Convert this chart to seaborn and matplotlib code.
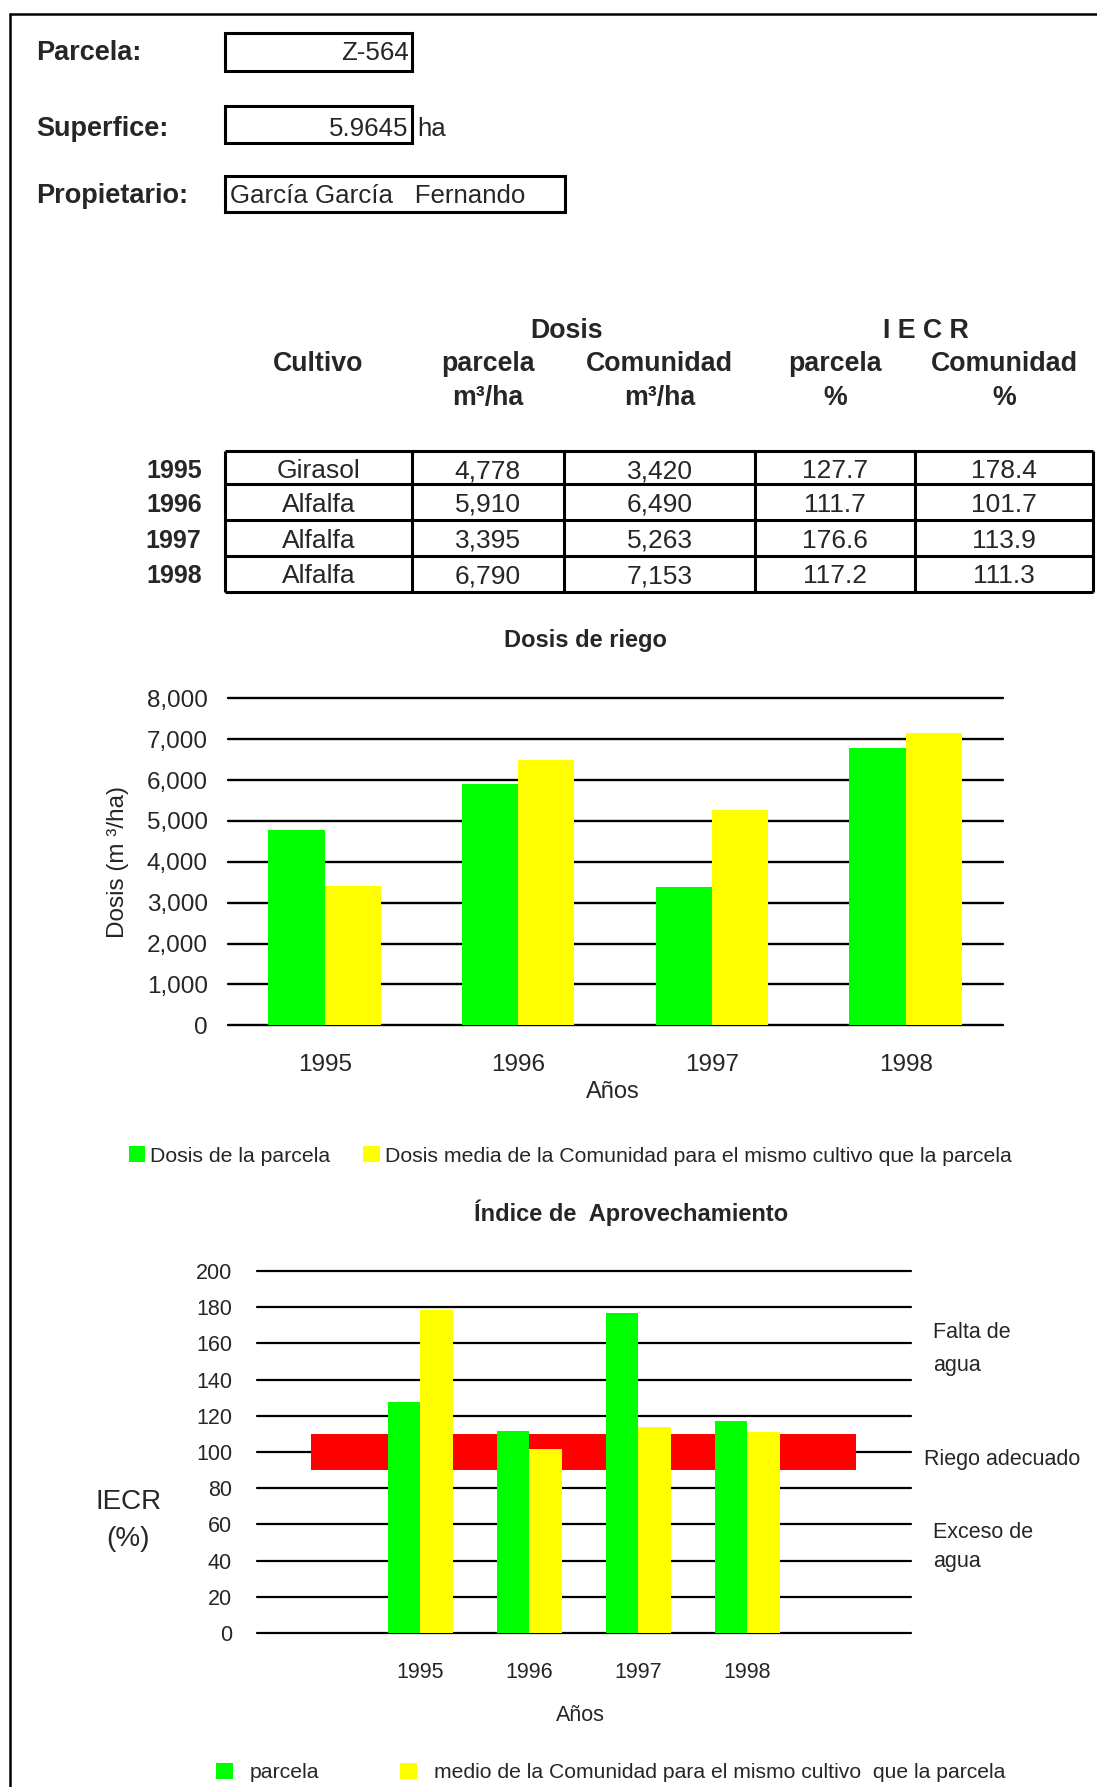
import matplotlib
matplotlib.use("Agg")
import matplotlib.pyplot as plt
from matplotlib.patches import Rectangle
import pandas as pd
import seaborn as sns

# ---- data -------------------------------------------------------------
years = ["1995", "1996", "1997", "1998"]
cultivos = ["Girasol", "Alfalfa", "Alfalfa", "Alfalfa"]
dosis_parcela = [4778, 5910, 3395, 6790]
dosis_comunidad = [3420, 6490, 5263, 7153]
iecr_parcela = [127.7, 111.7, 176.6, 117.2]
iecr_comunidad = [178.4, 101.7, 113.9, 111.3]
riego_adecuado = (90, 110)

parcela_id = "Z-564"
superficie = "5.9645"
propietario = "García García   Fernando"

dosis_ticks = list(range(0, 8001, 1000))
iecr_ticks = list(range(0, 201, 20))

GREEN = "#00FF00"
YELLOW = "#FFFF00"
RED = "#FF0000"

sns.set_style("white")
plt.rcParams["font.family"] = ["Liberation Sans", "DejaVu Sans"]

W, H = 1097, 1787
fig = plt.figure(figsize=(W / 100, H / 100), dpi=100)

# full-page axes in pixel units for the sheet layout
bg = fig.add_axes([0, 0, 1, 1])
bg.set_xlim(0, W)
bg.set_ylim(H, 0)
bg.axis("off")


def ax_rect(left, top, right, bottom):
    return [left / W, 1 - bottom / H, (right - left) / W, (bottom - top) / H]


# page frame (top and left edges)
bg.plot([9.5, W], [13.5, 13.5], color="black", lw=1.8, clip_on=False)
bg.plot([9.5, 9.5], [13.5, H], color="black", lw=1.8, clip_on=False)

# ---- header block -----------------------------------------------------
LBL = dict(fontsize=19.5, fontweight="bold", va="baseline")
bg.text(36.5, 60.5, "Parcela:", **LBL)
bg.text(36.5, 136.5, "Superfice:", **LBL)
bg.text(36.5, 203, "Propietario:", **LBL)

for (x0, y0, x1, y1) in [(224.6, 33.3, 412.2, 71.0),
                         (224.6, 106.0, 412.2, 142.7),
                         (224.6, 176.0, 564.5, 211.7)]:
    bg.add_patch(Rectangle((x0, y0), x1 - x0, y1 - y0, fill=False,
                           ec="black", lw=2.2))

VAL = dict(fontsize=18.6, va="baseline")
bg.text(408.5, 60.5, parcela_id, ha="right", **VAL)
bg.text(408.5, 136.5, superficie, ha="right", **VAL)
bg.text(417, 136.5, "ha", ha="left", **VAL)
bg.text(230.5, 203, propietario, ha="left", **VAL)

# ---- summary table ----------------------------------------------------
col_x = [225.3, 411.6, 564.2, 754.9, 915.2, 1093.2]
row_y = [451.0, 484.3, 520.0, 555.7, 591.7]
col_c = [(col_x[i] + col_x[i + 1]) / 2 for i in range(5)]

HDR = dict(fontsize=19.3, fontweight="bold", va="baseline", ha="center")
bg.text(566.4, 338.5, "Dosis", **HDR)
bg.text(925.7, 338.5, "I E C R", **HDR)
bg.text(col_c[0], 371, "Cultivo", **HDR)
bg.text(col_c[1], 371, "parcela", **HDR)
bg.text(col_c[2], 371, "Comunidad", **HDR)
bg.text(col_c[3], 371, "parcela", **HDR)
bg.text(col_c[4], 371, "Comunidad", **HDR)
bg.text(col_c[1], 405, "m³/ha", **HDR)
bg.text(col_c[2], 405, "m³/ha", **HDR)
bg.text(col_c[3], 405, "%", **HDR)
bg.text(col_c[4], 405, "%", **HDR)

bg.hlines(row_y, col_x[0], col_x[-1], color="black", lw=2.2)
bg.vlines(col_x, row_y[0], row_y[-1], color="black", lw=2.2)

for i, yr in enumerate(years):
    base = row_y[i] + 27.5
    bg.text(201.5, base, yr, fontsize=18, fontweight="bold",
            ha="right", va="baseline")
    cells = [cultivos[i], f"{dosis_parcela[i]:,}", f"{dosis_comunidad[i]:,}",
             f"{iecr_parcela[i]:.1f}", f"{iecr_comunidad[i]:.1f}"]
    for c, txt in zip(col_c, cells):
        bg.text(c, base, txt, fontsize=19, ha="center", va="baseline")

# ---- chart 1: irrigation dose -----------------------------------------
df_dosis = pd.DataFrame({
    "Año": years * 2,
    "serie": ["Dosis de la parcela"] * 4
             + ["Dosis media de la Comunidad para el mismo cultivo que la parcela"] * 4,
    "dosis": dosis_parcela + dosis_comunidad,
})

ax1 = fig.add_axes(ax_rect(227.8, 698.3, 1002.5, 1025.3))
ax1.set_facecolor("none")
sns.barplot(data=df_dosis, x="Año", y="dosis", hue="serie",
            palette=[GREEN, YELLOW], saturation=1, width=0.58,
            linewidth=0, errorbar=None, legend=False, ax=ax1, zorder=2)
ax1.set_xlim(-0.5, len(years) - 0.5)
ax1.set_ylim(dosis_ticks[0], dosis_ticks[-1])
for t in dosis_ticks:
    ax1.axhline(t, color="black", lw=1.7, zorder=1, clip_on=False)
ax1.set_yticks(dosis_ticks)
ax1.set_yticklabels([f"{t:,}" for t in dosis_ticks])
ax1.tick_params(axis="y", length=0, labelsize=17.5, pad=14.4)
ax1.tick_params(axis="x", length=0, labelsize=17.5, pad=21)
ax1.set_xlabel("")
ax1.set_ylabel("")
sns.despine(ax=ax1, left=True, bottom=True)

bg.text(585, 647.5, "Dosis de riego", fontsize=17, fontweight="bold",
        ha="center", va="baseline")
bg.text(612.5, 1098, "Años", fontsize=17, ha="center", va="baseline")
bg.text(118, 861.5, "Dosis (m ³/ha)", fontsize=17.5, rotation=90,
        ha="center", va="center")

# legend
bg.add_patch(Rectangle((128.6, 1146), 16.3, 16.3, color=GREEN, lw=0))
bg.text(150.5, 1161.5, "Dosis de la parcela", fontsize=15.3, va="baseline")
bg.add_patch(Rectangle((363.4, 1146), 16.3, 16.3, color=YELLOW, lw=0))
bg.text(384.8, 1161.5,
        "Dosis media de la Comunidad para el mismo cultivo que la parcela",
        fontsize=15.3, va="baseline")

# ---- chart 2: use index -----------------------------------------------
df_iecr = pd.DataFrame({
    "Año": years * 2,
    "serie": ["parcela"] * 4
             + ["medio de la Comunidad para el mismo cultivo que la parcela"] * 4,
    "iecr": iecr_parcela + iecr_comunidad,
})

ax2 = fig.add_axes(ax_rect(257.0, 1271.0, 910.8, 1633.0))
ax2.set_facecolor("none")
sns.barplot(data=df_iecr, x="Año", y="iecr", hue="serie",
            palette=[GREEN, YELLOW], saturation=1, width=0.6,
            linewidth=0, errorbar=None, legend=False, ax=ax2, zorder=3)
ax2.set_xlim(-1.5, len(years) + 0.5)
ax2.set_ylim(iecr_ticks[0], iecr_ticks[-1])
for t in iecr_ticks:
    ax2.axhline(t, color="black", lw=1.6, zorder=1, clip_on=False)
# band of adequate irrigation
ax2.fill_between([-1, len(years)], riego_adecuado[0], riego_adecuado[1],
                 color=RED, lw=0, zorder=2)
ax2.set_yticks(iecr_ticks)
ax2.set_yticklabels([str(t) for t in iecr_ticks])
ax2.tick_params(axis="y", length=0, labelsize=15.5, pad=18)
ax2.tick_params(axis="x", length=0, labelsize=15.5, pad=21)
ax2.set_xlabel("")
ax2.set_ylabel("")
sns.despine(ax=ax2, left=True, bottom=True)

bg.text(631, 1220.5, "Índice de  Aprovechamiento", fontsize=17,
        fontweight="bold", ha="center", va="baseline")
bg.text(580.4, 1721, "Años", fontsize=15.5, ha="center", va="baseline")
bg.text(128.5, 1509, "IECR", fontsize=20, ha="center", va="baseline")
bg.text(128.5, 1546, "(%)", fontsize=20, ha="center", va="baseline")

SIDE = dict(fontsize=15.5, va="baseline", ha="left")
bg.text(933, 1337.5, "Falta de", **SIDE)
bg.text(933, 1371.5, "agua", **SIDE)
bg.text(924, 1465, "Riego adecuado", **SIDE)
bg.text(933, 1538.5, "Exceso de", **SIDE)
bg.text(933, 1566.5, "agua", **SIDE)

# legend
bg.add_patch(Rectangle((216.4, 1762.5), 16.3, 16.3, color=GREEN, lw=0))
bg.text(250, 1778.5, "parcela", fontsize=15.3, va="baseline")
bg.add_patch(Rectangle((400.4, 1762.5), 16.3, 16.3, color=YELLOW, lw=0))
bg.text(433.5, 1778.5,
        "medio de la Comunidad para el mismo cultivo  que la parcela",
        fontsize=15.2, va="baseline")

fig.savefig("out.png", dpi=100)
